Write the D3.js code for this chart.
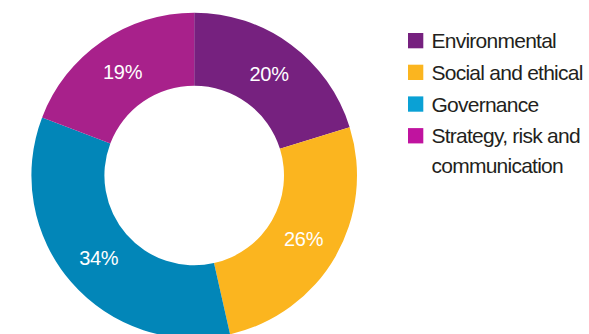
<!DOCTYPE html>
<html>
<head>
<meta charset="utf-8">
<script src="https://cdn.jsdelivr.net/npm/d3@7"></script>
<style>
  html, body { margin: 0; padding: 0; background: #ffffff; }
  svg { display: block; }
</style>
</head>
<body>
<svg id="chart" width="589" height="334"></svg>
<script>
// Share of topics by category
const categories = ["Environmental", "Social and ethical", "Governance", "Strategy, risk and communication"];
const values = [20, 26, 34, 19];
const valueLabels = ["20%", "26%", "34%", "19%"];
const legendLines = [["Environmental"], ["Social and ethical"], ["Governance"], ["Strategy, risk and", "communication"]];
const sliceColors = ["#76217f", "#fbb51f", "#0286b8", "#a8218b"];
const legendColors = ["#76217f", "#fbb51f", "#0aa1d5", "#c0139f"];

const svg = d3.select("#chart");
const cx = 194.2, cy = 175.5;
const innerR = 89.8, outerR = 162.8;

const pie = d3.pie().sort(null).value(d => d);
const arcs = pie(values);
const arc = d3.arc().innerRadius(innerR).outerRadius(outerR);

const g = svg.append("g").attr("transform", `translate(${cx},${cy})`);

g.selectAll("path.slice")
  .data(arcs)
  .join("path")
  .attr("class", "slice")
  .attr("d", arc)
  .attr("fill", (d, i) => sliceColors[i]);

g.selectAll("text.value")
  .data(arcs)
  .join("text")
  .attr("class", "value")
  .attr("transform", d => `translate(${arc.centroid(d)})`)
  .attr("text-anchor", "middle")
  .attr("dy", "0.36em")
  .attr("font-family", "'Liberation Sans', Arial, sans-serif")
  .attr("font-size", 20)
  .attr("letter-spacing", "-0.3px")
  .attr("fill", "#ffffff")
  .text((d, i) => valueLabels[i]);

// Legend
const legend = svg.append("g").attr("transform", "translate(408,33)");
const rowStep = 31.7, sw = 15.3;
const rows = legend.selectAll("g.row")
  .data(categories)
  .join("g")
  .attr("class", "row")
  .attr("transform", (d, i) => `translate(0,${i * rowStep})`);

rows.append("rect")
  .attr("width", sw)
  .attr("height", sw)
  .attr("fill", (d, i) => legendColors[i]);

rows.append("text")
  .attr("x", 24)
  .attr("y", sw)
  .attr("font-family", "'Liberation Sans', Arial, sans-serif")
  .attr("font-size", 21)
  .attr("letter-spacing", "-0.75px")
  .attr("fill", "#231f20")
  .each(function(d, i) {
    const t = d3.select(this);
    legendLines[i].forEach((line, j) => {
      t.append("tspan")
        .attr("x", 23.5)
        .attr("dy", j === 0 ? 0 : 30)
        .text(line);
    });
  });
</script>
</body>
</html>
